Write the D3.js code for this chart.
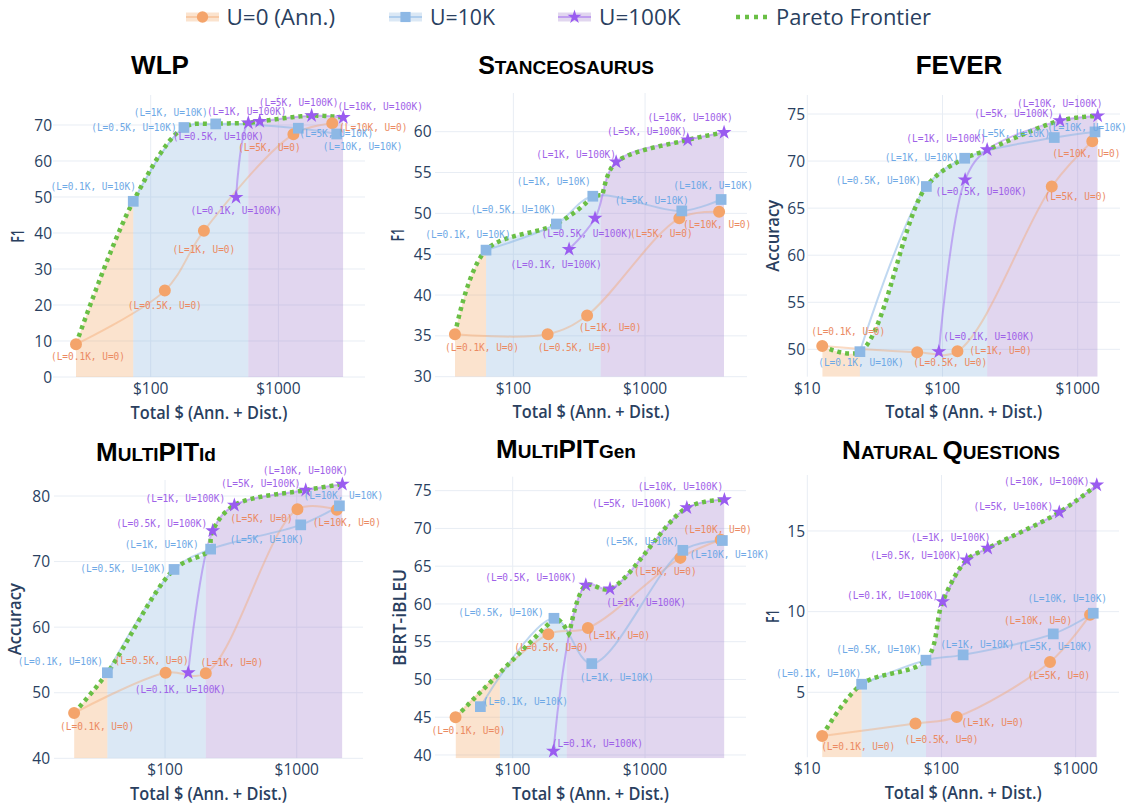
<!DOCTYPE html>
<html><head><meta charset="utf-8">
<script src="https://cdn.jsdelivr.net/npm/d3@7"></script>
<style>body{margin:0;background:#fff}</style>
</head><body>
<svg id="c" width="1129" height="811" xmlns="http://www.w3.org/2000/svg"></svg>
<script>
// ---------------- DATA ----------------
const lLabels = ["0.1K","0.5K","1K","5K","10K"];
const uLabels = ["0","10K","100K"];
const legendLabels = ["U=0 (Ann.)","U=10K","U=100K","Pareto Frontier"];
const xTickValues = [10,100,1000];

// WLP (F1)
const wlpCostU0    = [26,129,261,1310,2640];
const wlpScoreU0   = [9.1,24.0,40.6,67.4,70.5];
const wlpCostU10K  = [73,182,323,1432,2860];
const wlpScoreU10K = [48.8,69.3,70.3,69.1,67.5];
const wlpCostU100K = [466,581,714,1820,3220];
const wlpScoreU100K= [49.9,70.6,71.0,72.6,72.1];
const wlpFrontier  = [[0,0],[1,0],[1,1],[1,2],[2,1],[2,2],[2,3],[2,4]];
const wlpFillBreaks= [26,73,581,3220];
const wlpYTicks    = [0,10,20,30,40,50,60,70];

// Stanceosaurus (F1)
const stnCostU0    = [36,182,363,1820,3650];
const stnScoreU0   = [35.2,35.2,37.5,49.4,50.2];
const stnCostU10K  = [62,212,401,1900,3780];
const stnScoreU10K = [45.5,48.7,52.1,50.3,51.7];
const stnCostU100K = [265,417,603,2110,3980];
const stnScoreU100K= [45.6,49.4,56.3,59.0,59.9];
const stnFrontier  = [[0,0],[1,0],[1,1],[1,2],[2,2],[2,3],[2,4]];
const stnFillBreaks= [36,62,461,3980];
const stnYTicks    = [30,35,40,45,50,55,60];

// FEVER (Accuracy)
const fevCostU0    = [12.9,65,129,643,1282];
const fevScoreU0   = [50.35,49.7,49.8,67.3,72.1];
const fevCostU10K  = [24.5,76,146,671,1343];
const fevScoreU10K = [49.75,67.3,70.3,72.5,73.1];
const fevCostU100K = [94,147,214,740,1406];
const fevScoreU100K= [49.75,68.0,71.2,74.3,74.8];
const fevFrontier  = [[0,0],[1,0],[1,1],[1,2],[2,2],[2,3],[2,4]];
const fevFillBreaks= [12.9,24.5,214,1406];
const fevYTicks    = [50,55,60,65,70,75];

// MultiPIT Id (Accuracy)
const mpiCostU0    = [20.4,101,204,1012,2013];
const mpiScoreU0   = [46.9,53.05,52.96,77.97,77.9];
const mpiCostU10K  = [36.5,117,222,1072,2108];
const mpiScoreU10K = [53.05,68.8,71.9,75.6,78.5];
const mpiCostU100K = [150,230,336,1170,2220];
const mpiScoreU100K= [53.05,74.7,78.6,80.9,81.8];
const mpiFrontier  = [[0,0],[1,0],[1,1],[1,2],[2,1],[2,2],[2,3],[2,4]];
const mpiFillBreaks= [20.4,36.5,204,2220];
const mpiYTicks    = [40,50,60,70,80];

// MultiPIT Gen (BERT-iBLEU)
const mpgCostU0    = [37,186,370,1850,3730];
const mpgScoreU0   = [45.0,56.0,56.8,66.1,68.5];
const mpgCostU10K  = [57,205,396,1930,3840];
const mpgScoreU10K = [46.4,58.1,52.1,67.1,68.4];
const mpgCostU100K = [203,357,544,2070,3980];
const mpgScoreU100K= [40.5,62.5,62.0,72.75,73.8];
const mpgFrontier  = [[0,0],[1,1],[2,1],[2,2],[2,3],[2,4]];
const mpgFillBreaks= [37,80,256,3980];
const mpgYTicks    = [40,45,50,55,60,65,70,75];

// Natural Questions (F1)
const nqCostU0     = [12.9,64,130,644,1280];
const nqScoreU0    = [2.29,3.07,3.47,6.88,9.8];
const nqCostU10K   = [25.4,76.6,145,681,1352];
const nqScoreU10K  = [5.5,6.99,7.32,8.62,9.9];
const nqCostU100K  = [102,154,221,755,1436];
const nqScoreU100K = [10.62,13.2,13.93,16.16,17.85];
const nqFrontier   = [[0,0],[1,0],[1,1],[2,0],[2,1],[2,2],[2,3],[2,4]];
const nqFillBreaks = [12.9,25.4,76.6,1436];
const nqYTicks     = [5,10,15];

// ---------------- LAYOUT (label offsets in px, per series per point) ----------------
const wlpLabelOff = [[[12,12],[0,15],[0,18],[-24,13],[41,4]],
                     [[-40,-15],[-50,0],[-45,-12],[38,5],[26,12]],
                     [[0,13],[-30,13],[-13,-10],[-13,-13],[37,-11]]];
const stnLabelOff = [[[27,13],[27,13],[23,12],[-18,15],[-2,13]],
                     [[-18,-16],[-43,-15],[-39,-15],[-30,-11],[-8,-14]],
                     [[-13,15],[-8,15],[-40,-8],[-41,-9],[-34,-15]]];
const fevLabelOff = [[[26,-15],[33,10],[43,-1],[24,10],[-6,12]],
                     [[1,11],[-48,-6],[-43,-1],[-41,-4],[-8,-5]],
                     [[50,-15],[16,11],[-41,-11],[-46,-7],[-38,-13]]];
const mpiLabelOff = [[[23,13],[-14,-12],[26,-11],[-36,9],[10,13]],
                     [[-47,-11],[-51,-1],[-49,-5],[-34,14],[4,-11]],
                     [[-8,17],[-51,-7],[-49,-7],[-45,-7],[-37,-14]]];
const mpgLabelOff = [[[13,13],[3,13],[31,7],[-15,13],[-3,-10]],
                     [[45,-5],[-53,-6],[25,14],[-41,-9],[7,14]],
                     [[44,-8],[-55,-8],[36,13],[-55,-4],[-44,-13]]];
const nqLabelOff  = [[[36,10],[26,16],[36,5],[9,13],[-52,5]],
                     [[-43,-11],[-47,-11],[14,-11],[2,12],[-26,-15]],
                     [[-50,-6],[-51,-5],[-37,-11],[-46,-6],[-50,-4]]];

const panels = [
 {title:[["WLP",26]], yTitle:"F1", yTitleLen:13,
  cost:[wlpCostU0,wlpCostU10K,wlpCostU100K], score:[wlpScoreU0,wlpScoreU10K,wlpScoreU100K],
  frontier:wlpFrontier, breaks:wlpFillBreaks, yTicks:wlpYTicks, labelOff:wlpLabelOff,
  L:{left:53,right:365,top:95,bottom:377,xLog:[1.235,3.678],yDom:[0,78.33],yTickX:52,yTitleX:17.5,titleX:160,titleY:74}},
 {title:[["S",25],["TANCEOSAURUS",19]], yTitle:"F1", yTitleLen:13,
  cost:[stnCostU0,stnCostU10K,stnCostU100K], score:[stnScoreU0,stnScoreU10K,stnScoreU100K],
  frontier:stnFrontier, breaks:stnFillBreaks, yTicks:stnYTicks, labelOff:stnLabelOff,
  L:{left:435,right:747,top:93,bottom:376.7,xLog:[1.405,3.774],yDom:[30,64.74],yTickX:431.5,yTitleX:397.5,titleX:566,titleY:73.5}},
 {title:[["FEVER",26]], yTitle:"Accuracy", yTitleLen:72,
  cost:[fevCostU0,fevCostU10K,fevCostU100K], score:[fevScoreU0,fevScoreU10K,fevScoreU100K],
  frontier:fevFrontier, breaks:fevFillBreaks, yTicks:fevYTicks, labelOff:fevLabelOff,
  L:{left:807.3,right:1120,top:95,bottom:376.7,xLog:[1.0,3.313],yDom:[47.09,77.02],yTickX:805,yTitleX:773,titleX:959,titleY:74}},
 {title:[["M",26],["ULTI",19],["PIT",26],["Id",19]], yTitle:"Accuracy", yTitleLen:72,
  cost:[mpiCostU0,mpiCostU10K,mpiCostU100K], score:[mpiScoreU0,mpiScoreU10K,mpiScoreU100K],
  frontier:mpiFrontier, breaks:mpiFillBreaks, yTicks:mpiYTicks, labelOff:mpiLabelOff,
  L:{left:54,right:363,top:480,bottom:758.3,xLog:[1.157,3.503],yDom:[40,82.44],yTickX:50,yTitleX:15,titleX:156,titleY:461}},
 {title:[["M",26],["ULTI",19],["PIT",26],["Gen",19]], yTitle:"BERT-iBLEU", yTitleLen:97,
  cost:[mpgCostU0,mpgCostU10K,mpgCostU100K], score:[mpgScoreU0,mpgScoreU10K,mpgScoreU100K],
  frontier:mpgFrontier, breaks:mpgFillBreaks, yTicks:mpgYTicks, labelOff:mpgLabelOff,
  L:{left:435,right:746,top:476.7,bottom:758.3,xLog:[1.413,3.763],yDom:[39.56,76.85],yTickX:431.5,yTitleX:399.5,titleX:566,titleY:457.5}},
 {title:[["N",26],["ATURAL ",19],["Q",26],["UESTIONS",19]], yTitle:"F1", yTitleLen:13,
  cost:[nqCostU0,nqCostU10K,nqCostU100K], score:[nqScoreU0,nqScoreU10K,nqScoreU100K],
  frontier:nqFrontier, breaks:nqFillBreaks, yTicks:nqYTicks, labelOff:nqLabelOff,
  L:{left:807.3,right:1119,top:475,bottom:757.3,xLog:[1.0,3.323],yDom:[0.97,18.47],yTickX:805,yTitleX:772.5,titleX:951,titleY:458.5}}
];

// ---------------- STYLE ----------------
const FONT = "'Open Sans', 'Noto Sans', sans-serif";
const TFONT = "'Liberation Sans', Arial, sans-serif";
const MONO = "'DejaVu Sans Mono', monospace";
const TXT = "#2a3f5f";
const GRID = "#E8EDF4";
const markerCol = ["#F4A46B","#8DB8E5","#9A5CF0"];
const lineCol   = ["rgba(244,164,107,0.4)","rgba(141,184,229,0.55)","rgba(154,92,240,0.45)"];
const fillCol   = ["rgba(242,162,92,0.3)","rgba(135,178,222,0.3)","rgba(155,118,202,0.3)"];
const labelCol  = ["#EB8A62","#6FA9E6","#9F62E8"];
const frontierCol = "#6ABF45";
const symbols = [d3.symbolCircle, d3.symbolSquare, d3.symbolStar];
const symSize = [113,115,68];
const LABEL_CHAR_W = 5.69;

const svg = d3.select("#c");
const defs = svg.append("defs");
svg.append("rect").attr("width",1129).attr("height",811).attr("fill","#fff");

const curve = d3.curveCatmullRom.alpha(0.5);
const line = d3.line().x(d=>d[0]).y(d=>d[1]).curve(curve);

// sample a smooth path so that its y can be read at any pixel x
function sampler(pathD){
  const el = svg.append("path").attr("d",pathD).attr("fill","none").attr("stroke","none");
  const node = el.node(), len = node.getTotalLength(), pts = [];
  for(let l=0;l<len;l+=0.4){ const q=node.getPointAtLength(l); pts.push([q.x,q.y]); }
  const q=node.getPointAtLength(len); pts.push([q.x,q.y]);
  el.remove();
  return xv=>{
    for(let i=0;i<pts.length-1;i++){
      const a=pts[i], b=pts[i+1];
      if((a[0]-xv)*(b[0]-xv)<=0){
        const t = b[0]===a[0] ? 0 : (xv-a[0])/(b[0]-a[0]);
        return a[1]+t*(b[1]-a[1]);
      }
    }
    return xv<pts[0][0] ? pts[0][1] : pts[pts.length-1][1];
  };
}

panels.forEach((p,pi)=>{
  const L = p.L;
  const x = d3.scaleLog().domain([Math.pow(10,L.xLog[0]),Math.pow(10,L.xLog[1])]).range([L.left,L.right]);
  const y = d3.scaleLinear().domain(L.yDom).range([L.bottom,L.top]);
  const g = svg.append("g");
  const gBack = g.append("g"), gFill = g.append("g"), gLines = g.append("g"),
        gFront = g.append("g"), gMark = g.append("g"), gLab = g.append("g");

  // grid
  gBack.selectAll(null).data(p.yTicks).join("line")
    .attr("x1",L.left).attr("x2",L.right).attr("y1",d=>y(d)).attr("y2",d=>y(d))
    .attr("stroke",GRID).attr("stroke-width",1);
  const xt = xTickValues.filter(v=>x(v)>=L.left-0.5 && x(v)<=L.right);
  gBack.selectAll(null).data(xt).join("line")
    .attr("x1",d=>x(d)).attr("x2",d=>x(d)).attr("y1",L.top).attr("y2",L.bottom)
    .attr("stroke",GRID).attr("stroke-width",1);

  // tick labels
  gBack.selectAll(null).data(p.yTicks).join("text")
    .attr("x",L.yTickX).attr("y",d=>y(d)).attr("dy","0.36em")
    .attr("text-anchor","end").attr("font-family",FONT).attr("font-size",15.5)
    .attr("fill",TXT).text(d=>d);
  gBack.selectAll(null).data(xt).join("text")
    .attr("x",d=>x(d)).attr("y",L.bottom+17).attr("text-anchor","middle")
    .attr("font-family",FONT).attr("font-size",15.5).attr("fill",TXT).text(d=>"$"+d);

  // axis titles
  gBack.append("text").attr("x",(L.left+L.right)/2).attr("y",L.bottom+41.5)
    .attr("text-anchor","middle").attr("font-family",FONT).attr("font-size",17.5)
    .attr("font-weight",600).attr("fill",TXT)
    .attr("textLength",157).attr("lengthAdjust","spacingAndGlyphs")
    .text("Total $ (Ann. + Dist.)");
  gBack.append("text").attr("transform",`translate(${L.yTitleX},${(L.top+L.bottom)/2}) rotate(-90)`)
    .attr("dy","0.36em").attr("text-anchor","middle").attr("font-family",FONT)
    .attr("font-size",17.5).attr("font-weight",600).attr("fill",TXT)
    .attr("textLength",p.yTitleLen).attr("lengthAdjust","spacingAndGlyphs")
    .text(p.yTitle);

  // title
  const t = gBack.append("text").attr("x",L.titleX).attr("y",L.titleY)
    .attr("text-anchor","middle").attr("font-family",TFONT).attr("font-weight",700).attr("fill","#000");
  p.title.forEach(([s,sz])=>t.append("tspan").attr("font-size",sz).text(s));

  // series splines
  const seriesPts = p.cost.map((cs,s)=>cs.map((c,i)=>[x(c),y(p.score[s][i])]));
  const seriesY = seriesPts.map(pts=>sampler(line(pts)));

  // frontier: spline through frontier points; between two series whose curves both
  // span the segment, follow the upper envelope of the two curves
  const fpts = p.frontier.map(([s,i])=>seriesPts[s][i]);
  const fY = sampler(line(fpts));
  const dense = [];
  for(let k=0;k<fpts.length-1;k++){
    const sa = p.frontier[k][0], sb = p.frontier[k+1][0];
    const x0 = fpts[k][0], x1 = fpts[k+1][0];
    const env = sa!==sb && seriesPts[sb][0][0] <= x0 && seriesPts[sa][4][0] >= x1;
    for(let xv=x0; xv<x1; xv+=0.5){
      const yv = env ? Math.min(seriesY[sa](xv), seriesY[sb](xv)) : fY(xv);
      dense.push([xv,yv]);
    }
  }
  dense.push(fpts[fpts.length-1]);

  // frontier fill
  const area = d3.area().x(d=>d[0]).y0(L.bottom).y1(d=>d[1]);
  for(let s=0;s<3;s++){
    const id = `fc${pi}_${s}`;
    defs.append("clipPath").attr("id",id).append("rect")
      .attr("x",x(p.breaks[s])).attr("width",x(p.breaks[s+1])-x(p.breaks[s]))
      .attr("y",L.top-20).attr("height",L.bottom-L.top+20);
    gFill.append("path").attr("d",area(dense)).attr("fill",fillCol[s]).attr("clip-path",`url(#${id})`);
  }

  // series lines
  for(let s=0;s<3;s++){
    gLines.append("path").attr("d",line(seriesPts[s])).attr("fill","none")
      .attr("stroke",lineCol[s]).attr("stroke-width",2);
  }

  // frontier line
  gFront.append("path").attr("d",d3.line()(dense)).attr("fill","none")
    .attr("stroke",frontierCol).attr("stroke-width",4.5).attr("stroke-dasharray","4,4");

  // markers + labels
  for(let s=0;s<3;s++){
    p.cost[s].forEach((c,i)=>{
      const [px,py] = seriesPts[s][i];
      gMark.append("path").attr("d",d3.symbol().type(symbols[s]).size(symSize[s])())
        .attr("transform",`translate(${px},${py})`).attr("fill",markerCol[s]);
      const off = p.labelOff[s][i];
      const txt = `(L=${lLabels[i]}, U=${uLabels[s]})`;
      gLab.append("text").attr("x",px+off[0]).attr("y",py+off[1]).attr("dy","0.36em")
        .attr("text-anchor","middle").attr("font-family",MONO).attr("font-size",10.2)
        .attr("textLength",txt.length*LABEL_CHAR_W).attr("lengthAdjust","spacingAndGlyphs")
        .attr("fill",labelCol[s]).text(txt);
    });
  }
});

// ---------------- LEGEND ----------------
const legendItems = [
  {sw:186, tx:226.5, len:108.5},
  {sw:389, tx:430, len:65},
  {sw:558, tx:599, len:81.6},
  {sw:736, tx:776, len:155}
];
const lg = svg.append("g");
const LY = 17;
legendItems.forEach((it,k)=>{
  if(k<3){
    lg.append("rect").attr("x",it.sw).attr("y",LY-4.5).attr("width",33).attr("height",9).attr("fill",fillCol[k]);
    lg.append("line").attr("x1",it.sw).attr("x2",it.sw+33).attr("y1",LY).attr("y2",LY)
      .attr("stroke",lineCol[k]).attr("stroke-width",2);
    lg.append("path").attr("d",d3.symbol().type(symbols[k]).size(symSize[k]*0.9)())
      .attr("transform",`translate(${it.sw+16.5},${LY})`).attr("fill",markerCol[k]);
  } else {
    lg.append("line").attr("x1",it.sw).attr("x2",it.sw+31).attr("y1",LY).attr("y2",LY)
      .attr("stroke",frontierCol).attr("stroke-width",4.5).attr("stroke-dasharray","4,5");
  }
  lg.append("text").attr("x",it.tx).attr("y",LY).attr("dy","0.36em")
    .attr("font-family",FONT).attr("font-size",22).attr("font-weight",500).attr("fill",TXT)
    .attr("textLength",it.len).attr("lengthAdjust","spacingAndGlyphs").text(legendLabels[k]);
});
</script>
</body></html>
